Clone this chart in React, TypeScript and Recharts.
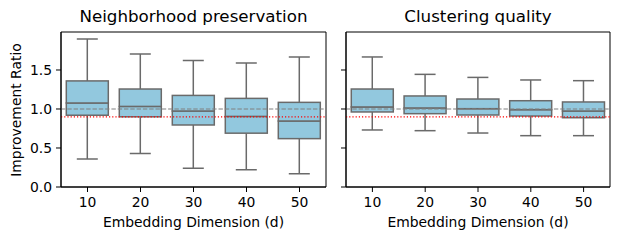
import React from 'react';
import { ComposedChart, Bar, XAxis, YAxis, ReferenceLine, ReferenceArea } from 'recharts';

const dims = ['10', '20', '30', '40', '50'];
const yTicks = [0, 0.5, 1.0, 1.5];

const npMin = [0.36, 0.43, 0.24, 0.22, 0.17];
const npQ1 = [0.92, 0.9, 0.795, 0.69, 0.62];
const npMed = [1.077, 1.033, 0.974, 0.905, 0.846];
const npQ3 = [1.36, 1.256, 1.174, 1.136, 1.085];
const npMax = [1.897, 1.705, 1.623, 1.59, 1.667];

const cqMin = [0.731, 0.722, 0.692, 0.658, 0.658];
const cqQ1 = [0.962, 0.94, 0.923, 0.91, 0.888];
const cqMed = [1.026, 1.013, 1.004, 0.991, 0.974];
const cqQ3 = [1.256, 1.167, 1.128, 1.106, 1.09];
const cqMax = [1.667, 1.444, 1.405, 1.372, 1.363];

const baseline = 1.0;
const threshold = 0.9;
const yMax = 1.987;

const FONT = '"DejaVu Sans", sans-serif';
const BOX_FILL = '#92c8de';
const LINE = '#6a6a6a';

function build(mn: number[], q1: number[], md: number[], q3: number[], mx: number[]) {
  return dims.map((d, i) => ({
    d,
    base: mn[i],
    wLow: q1[i] - mn[i],
    bLow: md[i] - q1[i],
    bHigh: q3[i] - md[i],
    wHigh: mx[i] - q3[i],
  }));
}

const npData = build(npMin, npQ1, npMed, npQ3, npMax);
const cqData = build(cqMin, cqQ1, cqMed, cqQ3, cqMax);

const WhiskerLow = (p: any) => {
  const { x, y, width, height } = p;
  const cx = x + width / 2;
  return (
    <g>
      <line x1={cx} x2={cx} y1={y} y2={y + height} stroke={LINE} strokeWidth={1.5} />
      <line x1={x + width / 4} x2={x + (3 * width) / 4} y1={y + height} y2={y + height} stroke={LINE} strokeWidth={1.5} />
    </g>
  );
};

const WhiskerHigh = (p: any) => {
  const { x, y, width, height } = p;
  const cx = x + width / 2;
  return (
    <g>
      <line x1={cx} x2={cx} y1={y} y2={y + height} stroke={LINE} strokeWidth={1.5} />
      <line x1={x + width / 4} x2={x + (3 * width) / 4} y1={y} y2={y} stroke={LINE} strokeWidth={1.5} />
    </g>
  );
};

const BoxPart = (p: any) => {
  const { x, y, width, height } = p;
  return <rect x={x} y={y} width={width} height={height} fill={BOX_FILL} stroke={LINE} strokeWidth={1.5} />;
};

const NoLabel = () => <g />;

function Panel({ data, showLabels, width, marginRight, yAxisWidth }: any) {
  return (
    <ComposedChart
      width={width}
      height={240}
      data={data}
      margin={{ top: 32, right: marginRight, bottom: 0, left: 0 }}
      barCategoryGap="10%"
      style={{ fontFamily: FONT }}
    >
      <XAxis
        dataKey="d"
        type="category"
        height={53}
        tickSize={5}
        tickMargin={5}
        axisLine={{ stroke: '#000', strokeWidth: 1 }}
        tickLine={{ stroke: '#000', strokeWidth: 1 }}
        tick={{ fill: '#000', fontSize: 13.9, fontFamily: FONT }}
        label={{ value: 'Embedding Dimension (d)', position: 'insideBottom', offset: 13.5, fill: '#000', fontSize: 13.9, fontFamily: FONT }}
      />
      <YAxis
        type="number"
        domain={[0, yMax]}
        ticks={yTicks}
        width={yAxisWidth}
        tickSize={5}
        tickMargin={4}
        allowDataOverflow
        axisLine={{ stroke: '#000', strokeWidth: 1 }}
        tickLine={{ stroke: '#000', strokeWidth: 1 }}
        tickFormatter={(v: number) => v.toFixed(1)}
        tick={showLabels ? { fill: '#000', fontSize: 13.9, fontFamily: FONT } : NoLabel}
      />
      <Bar dataKey="base" stackId="b" fill="none" isAnimationActive={false} />
      <Bar dataKey="wLow" stackId="b" shape={WhiskerLow} isAnimationActive={false} />
      <Bar dataKey="bLow" stackId="b" shape={BoxPart} isAnimationActive={false} />
      <Bar dataKey="bHigh" stackId="b" shape={BoxPart} isAnimationActive={false} />
      <Bar dataKey="wHigh" stackId="b" shape={WhiskerHigh} isAnimationActive={false} />
      <ReferenceLine y={baseline} stroke="#808080" strokeWidth={1.2} strokeDasharray="4.4 1.9" />
      <ReferenceLine y={threshold} stroke="#ff0000" strokeWidth={1.2} strokeDasharray="1.2 2" />
      <ReferenceArea y1={0} y2={yMax} fill="none" fillOpacity={0} stroke="#000" strokeWidth={1} />
    </ComposedChart>
  );
}

export default function App() {
  return (
    <div style={{ position: 'absolute', left: 0, top: 0, width: 619, height: 240, background: '#fff', fontFamily: FONT }}>
      <div style={{ position: 'absolute', left: 0, top: 0 }}>
        <Panel data={npData} showLabels width={330} marginRight={4} yAxisWidth={61} />
      </div>
      <div style={{ position: 'absolute', left: 330, top: 0 }}>
        <Panel data={cqData} showLabels={false} width={289} marginRight={9} yAxisWidth={16} />
      </div>
      <div style={{ position: 'absolute', left: 61, width: 265, top: 5, textAlign: 'center', fontSize: 16.7, lineHeight: '22px', color: '#000' }}>
        Neighborhood preservation
      </div>
      <div style={{ position: 'absolute', left: 346, width: 264, top: 5, textAlign: 'center', fontSize: 16.7, lineHeight: '22px', color: '#000' }}>
        Clustering quality
      </div>
      <div
        style={{
          position: 'absolute',
          left: 16,
          top: 110,
          transform: 'translate(-50%, -50%) rotate(-90deg)',
          whiteSpace: 'nowrap',
          fontSize: 13.9,
          lineHeight: '16px',
          color: '#000',
        }}
      >
        Improvement Ratio
      </div>
    </div>
  );
}
